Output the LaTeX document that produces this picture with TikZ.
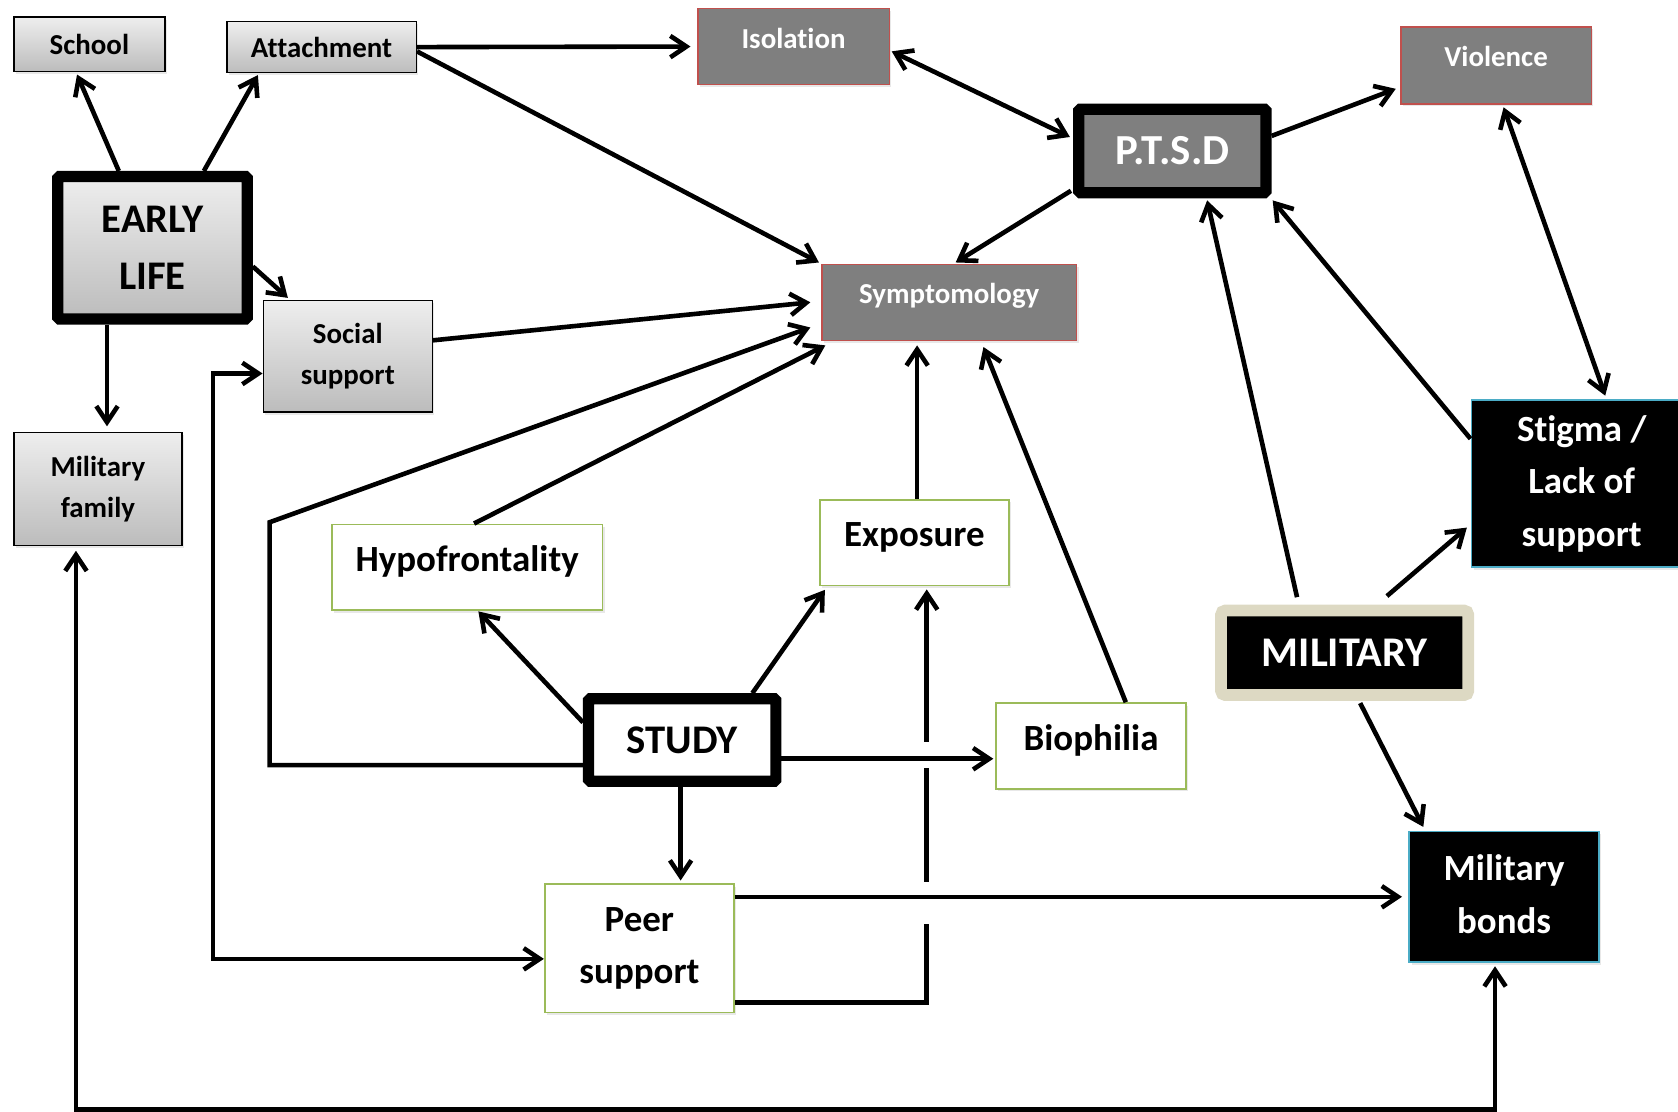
\documentclass[tikz,border=0pt]{standalone}
\usepackage{fontspec}
\setmainfont{Carlito}[Ligatures=NoCommon]
\usetikzlibrary{arrows.meta,shadows}

\definecolor{boxgray}{HTML}{7F7F7F}
\definecolor{boxred}{HTML}{C0504D}
\definecolor{boxgreen}{HTML}{9BBB59}
\definecolor{boxblue}{HTML}{4BACC6}
\definecolor{beige}{HTML}{DDD9C3}
\definecolor{shadetop}{HTML}{EEEEEE}
\definecolor{shadebot}{HTML}{BCBCBC}

\newcommand\smallfs{\fontsize{27}{38}\selectfont\bfseries}
\newcommand\midfs{\fontsize{34.5}{49}\selectfont\bfseries}
\newcommand\bigfs{\fontsize{38}{53}\selectfont\bfseries}

\tikzset{
  base/.style={rectangle, align=center, inner sep=0pt,
    drop shadow={shadow xshift=2pt, shadow yshift=-2.5pt, opacity=0.18}},
  shadebox/.style={base, draw=black, line width=1.3pt,
    top color=shadetop, bottom color=shadebot, font=\smallfs},
  redbox/.style={base, draw=boxred, line width=1.5pt, fill=boxgray,
    text=white, font=\smallfs, text height=20pt, text depth=17pt},
  greenbox/.style={base, draw=boxgreen, line width=1.6pt, fill=white, font=\midfs},
  greenone/.style={greenbox, text height=24pt, text depth=16pt},
  bluebox/.style={base, draw=boxblue, line width=1.8pt, fill=black,
    text=white, font=\midfs},
  heavybox/.style={base, draw=black, line width=10.5pt, rounded corners=1.5pt, font=\bigfs},
  >={Straight Barb[length=15pt,width=20pt]},
  wire/.style={line width=4.3pt},
  link/.style={wire, ->},
  twoway/.style={wire, <->},
}

\begin{document}
\begin{tikzpicture}[x=1pt, y=-1pt]
\useasboundingbox (0,0) rectangle (1568,1039);

% ---- early-life cluster
\node[shadebox, minimum width=141pt, minimum height=51pt] (school) at (83.5,41.5) {School};
\node[shadebox, minimum width=177pt, minimum height=48pt] (attach) at (300.5,44) {Attachment};
\node[heavybox, top color=shadetop, bottom color=shadebot,
      minimum width=177pt, minimum height=133pt] (early) at (142.5,231.5) {EARLY\\LIFE};
\node[shadebox, minimum width=158pt, minimum height=104pt] (social) at (325,333) {\raisebox{3pt}{Social}\\\raisebox{3pt}{support}};
\node[shadebox, minimum width=157pt, minimum height=106pt] (milfam) at (91.5,457) {\raisebox{4pt}{Military}\\\raisebox{4pt}{family}};

% ---- outcomes
\node[redbox, minimum width=179pt, minimum height=71pt] (isol) at (741.5,43.5) {Isolation};
\node[redbox, minimum width=178pt, minimum height=72pt] (viol) at (1398,61) {Violence};
\node[heavybox, fill=boxgray, text=white, font=\fontsize{40}{48}\selectfont\bfseries,
      minimum width=175pt, minimum height=78pt] (ptsd) at (1095.5,141) {P.T.S.D};
\node[redbox, minimum width=238pt, minimum height=71pt] (symp) at (887,282.5) {Symptomology};

% ---- military cluster
\node[bluebox, minimum width=206pt, minimum height=156pt] (stigma) at (1478,452) {\raisebox{-4pt}{Stigma /}\\\raisebox{-4pt}{Lack of}\\\raisebox{-4pt}{support}};
\node[base, draw=beige, line width=11pt, rounded corners=4pt, fill=black, text=white,
      font=\fontsize{39.5}{48}\selectfont\bfseries,
      minimum width=231pt, minimum height=79pt] (military) at (1256.5,610) {MILITARY};
\node[bluebox, minimum width=177pt, minimum height=122pt] (milbond) at (1405.5,838) {\raisebox{5pt}{Military}\\\raisebox{5pt}{bonds}};

% ---- study cluster
\node[greenone, minimum width=253pt, minimum height=80pt] (hypo) at (436.5,530) {Hypofrontality};
\node[greenone, minimum width=177pt, minimum height=80pt] (expo) at (854.5,507) {Exposure};
\node[heavybox, fill=white, minimum width=175pt, minimum height=77pt] (study) at (637.5,691.5) {STUDY};
\node[greenone, minimum width=177pt, minimum height=80pt] (bio) at (1019.5,697) {Biophilia};
\node[greenbox, minimum width=177pt, minimum height=120pt] (peer) at (597.5,886) {Peer\\support};

% ---- bend points of the routed connectors
\coordinate (loopL) at (199,600);
\coordinate (sl1) at (252,715);
\coordinate (sl2) at (252,488);
\coordinate (pe1) at (866,863);
\coordinate (pe2) at (866,824);
\coordinate (pe3) at (866,718);
\coordinate (pe4) at (866,693);
\coordinate (bot) at (700,1037);

% ---- connectors
\draw[link] ([xshift=-31.5pt]early.north) -- ([xshift=-11.5pt,yshift=-2pt]school.south);
\draw[link] ([xshift=48pt]early.north) -- ([xshift=-59.5pt,yshift=-1.5pt]attach.south);
\draw[link] ([yshift=-17.5pt]early.east) -- ([xshift=-56pt,yshift=2pt]social.north);
\draw[link] ([xshift=-42.5pt]early.south) -- ([xshift=8.5pt,yshift=5pt]milfam.north);

\draw[link] (attach.east) -- ([xshift=-6pt]isol.west);
\draw[link] ([yshift=-4pt]attach.east) -- ([xshift=-2pt,yshift=1pt]symp.north west);
\draw[twoway] ([xshift=1.5pt,yshift=-4.5pt]isol.east) -- ([xshift=-3pt,yshift=13pt]ptsd.west);
\draw[link] ([yshift=14pt]ptsd.east) -- ([xshift=-4pt,yshift=-22pt]viol.west);
\draw[link] ([xshift=-2pt,yshift=7pt]ptsd.south west) -- ([xshift=6pt,yshift=1pt]symp.north);
\draw[link] ([yshift=15pt]social.east) -- ([xshift=-10pt]symp.west);

\draw[twoway] ([yshift=-16pt]social.west) -| (loopL) |- ([yshift=-10pt]peer.west);
\draw[link] ([yshift=-23.5pt]study.west) -- (sl1) -- (sl2) -- ([xshift=-10pt,yshift=-23.5pt]symp.west);

\draw[link] ([xshift=6.5pt]hypo.north) -- ([xshift=4pt,yshift=-4pt]symp.south west);
\draw[link] ([yshift=16.5pt]study.west) -- ([xshift=10.5pt,yshift=-0.5pt]hypo.south);
\draw[link] ([xshift=65.5pt]study.north) -- ([xshift=5.6pt,yshift=-3.4pt]expo.south west);
\draw[link] ([yshift=-17.5pt]study.east) -- ([xshift=-2pt,yshift=-12pt]bio.west);
\draw[link] ([xshift=-1.5pt]study.south) -- ([xshift=38.5pt,yshift=2.4pt]peer.north);
\draw[link] ([xshift=2.5pt]expo.north) -- ([xshift=-30pt,yshift=-4pt]symp.south);
\draw[link] ([xshift=32.5pt]bio.north) -- ([xshift=32pt,yshift=-5.5pt]symp.south);

% peer support -> exposure, broken where it crosses the horizontals
\draw[wire] ([yshift=-51pt]peer.east) -| (pe1);
\draw[wire] (pe2) -- (pe3);
\draw[link] (pe4) -- ([xshift=11.5pt,yshift=-3pt]expo.south);

\draw[link] ([yshift=48pt]peer.east) -- ([xshift=-6pt]milbond.west);
\draw[twoway] ([xshift=-20.5pt,yshift=-4pt]milfam.south) |- (bot) -| ([xshift=-8.5pt,yshift=-3pt]milbond.south);

\draw[link] ([xshift=-44.5pt,yshift=7pt]military.north) -- ([xshift=32.5pt,yshift=-2pt]ptsd.south);
\draw[link] ([yshift=42pt]stigma.west) -- ([xshift=1pt,yshift=-2pt]ptsd.south east);
\draw[twoway] ([xshift=7pt,yshift=-2.5pt]viol.south) -- ([xshift=22pt,yshift=3.4pt]stigma.north);
\draw[link] ([xshift=39.5pt,yshift=8pt]military.north) -- ([xshift=-3.4pt,yshift=-41pt]stigma.west);
\draw[link] ([xshift=14.5pt,yshift=-2pt]military.south) -- ([xshift=-75.5pt,yshift=3.4pt]milbond.north);
\end{tikzpicture}
\end{document}
